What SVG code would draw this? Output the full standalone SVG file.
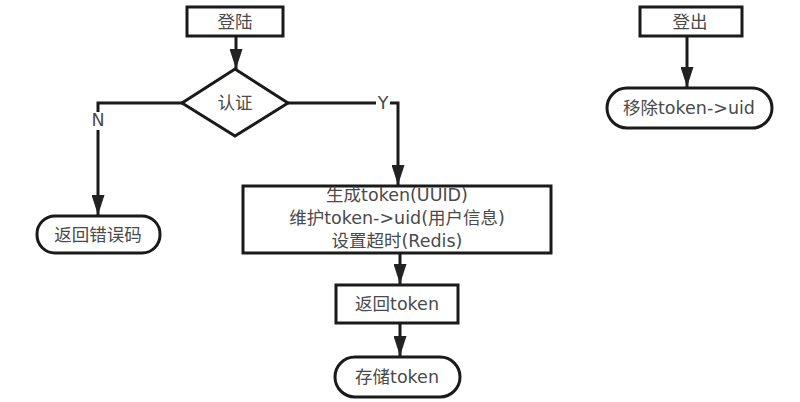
<svg xmlns="http://www.w3.org/2000/svg" width="800" height="402" viewBox="0 0 800 402">
<defs>
<marker id="arr" viewBox="0 0 20 13" refX="20" refY="6.5" markerWidth="20" markerHeight="13" markerUnits="userSpaceOnUse" orient="auto">
<path d="M0,0 L20,6.5 L0,13 Z" fill="#222"/>
</marker>
<style>
.box{fill:#fff;stroke:#1a1a1a;stroke-width:3}
.ln{fill:none;stroke:#1a1a1a;stroke-width:3}
.t{font-family:"DejaVu Sans","Noto Sans CJK SC",sans-serif;font-size:17.5px;fill:#4a4a4a;text-anchor:middle}
</style>
</defs>
<rect width="800" height="402" fill="#fff"/>
<g id="connectors">
<path class="ln" d="M236,36 V69" marker-end="url(#arr)"/>
<path class="ln" d="M182,103 H98 V112"/>
<path class="ln" d="M98,130 V215" marker-end="url(#arr)"/>
<path class="ln" d="M288,103 H376"/>
<path class="ln" d="M390,103 H398 V185" marker-end="url(#arr)"/>
<path class="ln" d="M400,253 V284" marker-end="url(#arr)"/>
<path class="ln" d="M400,323 V356" marker-end="url(#arr)"/>
<path class="ln" d="M687,36 V87" marker-end="url(#arr)"/>
<text class="t" x="98" y="126">N</text>
<text class="t" x="383" y="109">Y</text>
</g>
<g id="login">
<rect class="box" x="187" y="7" width="96" height="29"/>
<text class="t" x="235" y="28">登陆</text>
</g>
<g id="auth">
<polygon class="box" points="235,69 288,103 235,136 182,103"/>
<text class="t" x="235" y="109">认证</text>
</g>
<g id="error">
<rect class="box" x="37" y="216" width="123" height="37" rx="18"/>
<text class="t" x="98" y="241">返回错误码</text>
</g>
<g id="generate">
<rect class="box" x="243" y="186" width="308" height="67"/>
<text class="t" x="397" y="201">生成token(UUID)</text>
<text class="t" x="397" y="224">维护token-&gt;uid(用户信息)</text>
<text class="t" x="397" y="247">设置超时(Redis)</text>
</g>
<g id="return-token">
<rect class="box" x="336" y="285" width="122" height="38"/>
<text class="t" x="397" y="310">返回token</text>
</g>
<g id="store-token">
<rect class="box" x="335" y="357" width="125" height="40" rx="20"/>
<text class="t" x="397" y="383">存储token</text>
</g>
<g id="logout">
<rect class="box" x="640" y="7" width="102" height="29"/>
<text class="t" x="690" y="28">登出</text>
</g>
<g id="remove">
<rect class="box" x="607" y="88" width="165" height="40" rx="20"/>
<text class="t" x="689" y="114">移除token-&gt;uid</text>
</g>
</svg>
